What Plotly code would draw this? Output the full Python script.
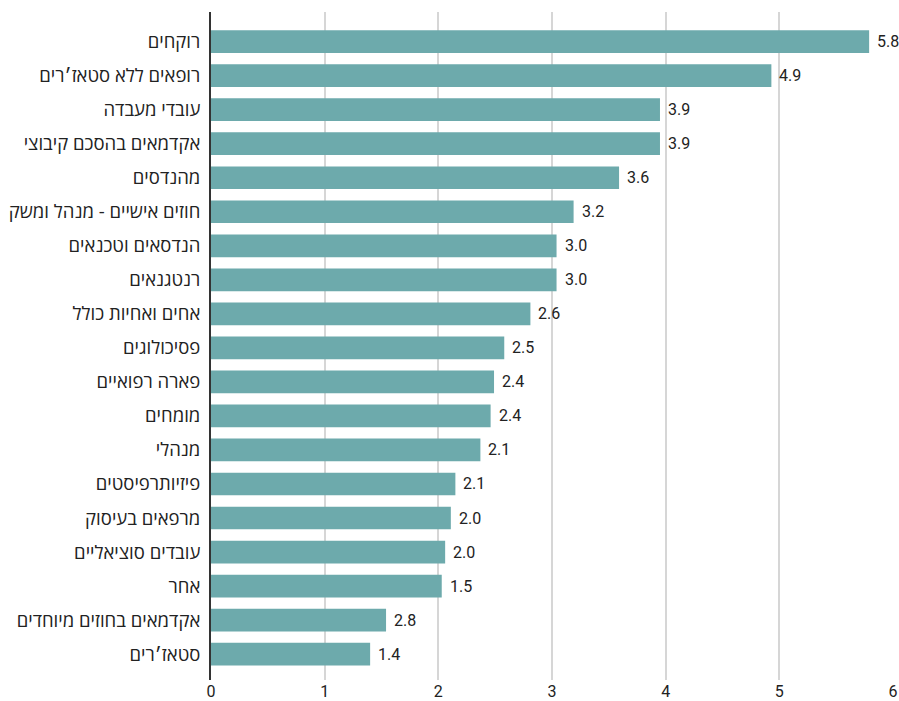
import plotly.graph_objects as go

categories = [
    "רוקחים",
    "רופאים ללא סטאז׳רים",
    "עובדי מעבדה",
    "אקדמאים בהסכם קיבוצי",
    "מהנדסים",
    "חוזים אישיים - מנהל ומשק",
    "הנדסאים וטכנאים",
    "רנטגנאים",
    "אחים ואחיות כולל",
    "פסיכולוגים",
    "פארה רפואיים",
    "מומחים",
    "מנהלי",
    "פיזיותרפיסטים",
    "מרפאים בעיסוק",
    "עובדים סוציאליים",
    "אחר",
    "אקדמאים בחוזים מיוחדים",
    "סטאז׳רים",
]
bar_values = [5.79, 4.93, 3.95, 3.95, 3.59, 3.19, 3.04, 3.04, 2.81, 2.58, 2.49, 2.46,
              2.37, 2.15, 2.11, 2.06, 2.03, 1.54, 1.40]
value_labels = ["5.8", "4.9", "3.9", "3.9", "3.6", "3.2", "3.0", "3.0", "2.6", "2.5", "2.4",
                "2.4", "2.1", "2.1", "2.0", "2.0", "1.5", "2.8", "1.4"]
x_ticks = [0, 1, 2, 3, 4, 5, 6]

HEB_FONT = "Open Sans, Liberation Sans, DejaVu Sans, sans-serif"
NUM_FONT = "Roboto, Open Sans, sans-serif"
TEXT = "#222222"

fig = go.Figure()
fig.add_trace(go.Bar(
    x=bar_values,
    y=categories,
    orientation="h",
    marker=dict(color="#6DAAAC", line=dict(width=0)),
    width=0.667,
    hoverinfo="skip",
))

for v, c, t in zip(bar_values, categories, value_labels):
    fig.add_annotation(
        x=v, y=c, text=t, xanchor="left", yanchor="middle", xshift=6,
        showarrow=False, font=dict(family=NUM_FONT, size=16, color=TEXT),
    )

n = len(categories)
fig.update_layout(
    width=899, height=701,
    margin=dict(l=211, r=6, t=12, b=21, autoexpand=False),
    paper_bgcolor="white", plot_bgcolor="white",
    showlegend=False,
    xaxis=dict(
        range=[0, 6], tickvals=x_ticks, ticktext=[str(t) for t in x_ticks],
        showgrid=True, gridcolor="#d6d6d6", gridwidth=2,
        zeroline=False, showline=False, ticks="",
        tickfont=dict(family=NUM_FONT, size=16, color=TEXT),
        automargin=False,
    ),
    yaxis=dict(
        type="category",
        categoryorder="array", categoryarray=categories,
        range=[n - 1 + 0.76, -0.87],
        showgrid=False, zeroline=False,
        showline=True, linecolor="#333333", linewidth=2,
        ticks="outside", ticklen=5, tickcolor="rgba(0,0,0,0)",
        tickfont=dict(family=HEB_FONT, size=18.5, color=TEXT),
        automargin=False,
    ),
)

fig.write_html(
    "out.html",
    config={"displayModeBar": False},
    post_script="document.body.style.margin='0';document.body.style.overflow='hidden';",
)
